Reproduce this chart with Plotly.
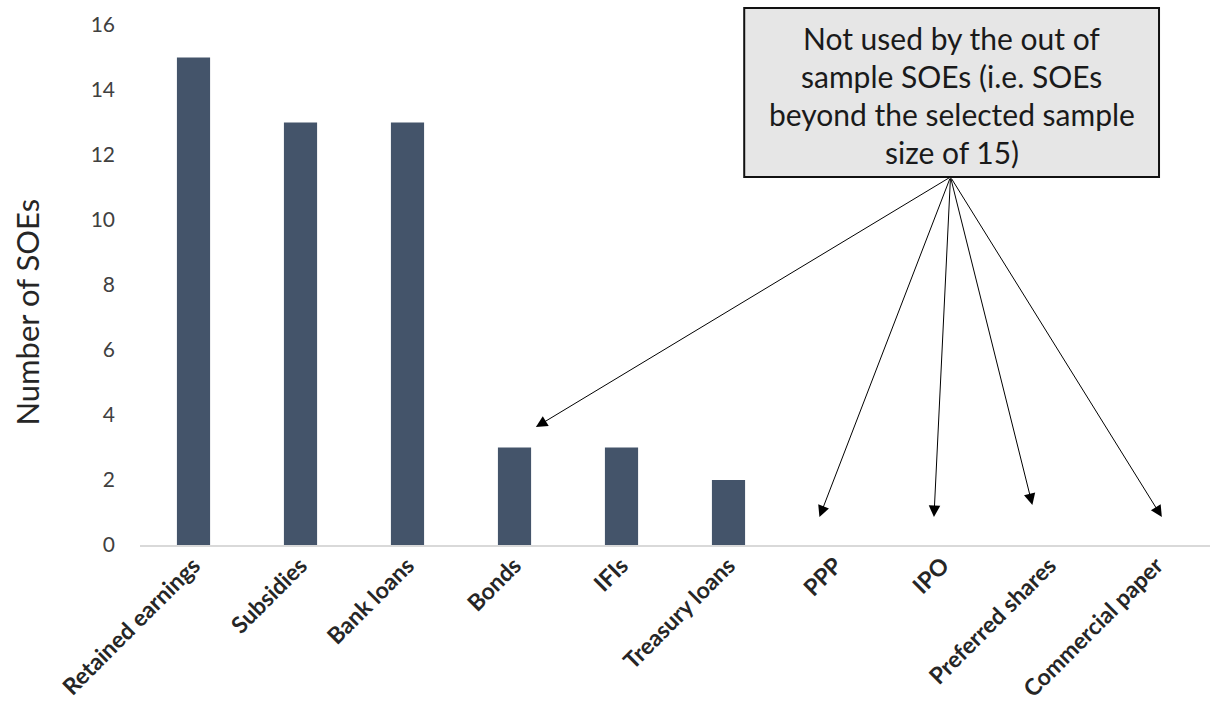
import plotly.graph_objects as go

categories = ["Retained earnings", "Subsidies", "Bank loans", "Bonds", "IFIs",
              "Treasury loans", "PPP", "IPO", "Preferred shares", "Commercial paper"]
values = [15, 13, 13, 3, 3, 2, 0, 0, 0, 0]
y_ticks = [0, 2, 4, 6, 8, 10, 12, 14, 16]
y_title = "Number of SOEs"
box_lines = ["Not used by the out of", "sample SOEs (i.e. SOEs",
             "beyond the selected sample", "size of 15)"]
# arrow targets: (category index, offset in category units, y value)
arrow_targets = [(3, 0.20, 3.63), (6, -0.15, 0.86), (7, -0.08, 0.86),
                 (8, -0.16, 1.23), (9, 0.05, 0.86)]

FONT = "Lato, 'Open Sans', sans-serif"

fig = go.Figure()
fig.add_trace(go.Bar(
    x=list(range(len(categories))), y=values,
    marker=dict(color="#44546A", line=dict(width=0)),
    width=0.31,
))

L, R, T, B = 139.5, 6, 25, 172
W, H = 1216, 717
pw = W - L - R
ph = H - T - B

def px_to_paper_x(px):
    return (px - L) / pw

def py_to_paper_y(py):
    return (H - B - py) / ph

# box
fig.add_shape(type="rect", xref="paper", yref="paper",
              x0=px_to_paper_x(744), x1=px_to_paper_x(1159),
              y0=py_to_paper_y(177), y1=py_to_paper_y(8),
              fillcolor="#E6E6E6", line=dict(color="#111111", width=2), layer="above")

line_y = [38, 76, 114, 152]
for txt, yy in zip(box_lines, line_y):
    fig.add_annotation(xref="paper", yref="paper", x=px_to_paper_x(951.5), y=py_to_paper_y(yy),
                       text=txt, showarrow=False, xanchor="center", yanchor="middle",
                       font=dict(family=FONT, size=30, color="#1a1a1a"))

# y-axis title as rotated annotation
fig.add_annotation(xref="paper", yref="paper", x=px_to_paper_x(26), y=py_to_paper_y(312),
                   text=y_title, textangle=-90, showarrow=False,
                   xanchor="center", yanchor="middle",
                   font=dict(family=FONT, size=31, color="#262626"))

# arrow tail at box bottom center, in data coords
tail_x = (950 - L) / 107.0 - 0.5
tail_y = (545 - 177) / 32.5
for idx, off, yv in arrow_targets:
    fig.add_annotation(x=idx + off, y=yv, xref="x", yref="y",
                       ax=tail_x, ay=tail_y, axref="x", ayref="y",
                       showarrow=True, arrowhead=2, arrowsize=2.3, arrowwidth=1,
                       arrowcolor="#000000", text="")

fig.update_layout(
    width=W, height=H,
    margin=dict(l=L, r=R, t=T, b=B, pad=0, autoexpand=False),
    plot_bgcolor="white", paper_bgcolor="white",
    showlegend=False,
    font=dict(family=FONT),
)
fig.update_xaxes(
    range=[-0.5, len(categories) - 0.5],
    tickmode="array", tickvals=list(range(len(categories))), ticktext=[f"<b>{c}</b>" for c in categories],
    tickangle=-45, tickfont=dict(family=FONT, size=23, color="#262626"),
    showline=True, linecolor="#D9D9D9", linewidth=2, showgrid=False, ticks="",
    ticklabelstandoff=-4, automargin=False,
)
fig.update_yaxes(
    range=[0, 16], tickmode="array", tickvals=y_ticks,
    tickfont=dict(family=FONT, size=21, color="#404040"),
    showgrid=False, zeroline=False, showline=False, ticks="",
    ticklabelstandoff=24, automargin=False,
)

fig.write_html("out.html")
